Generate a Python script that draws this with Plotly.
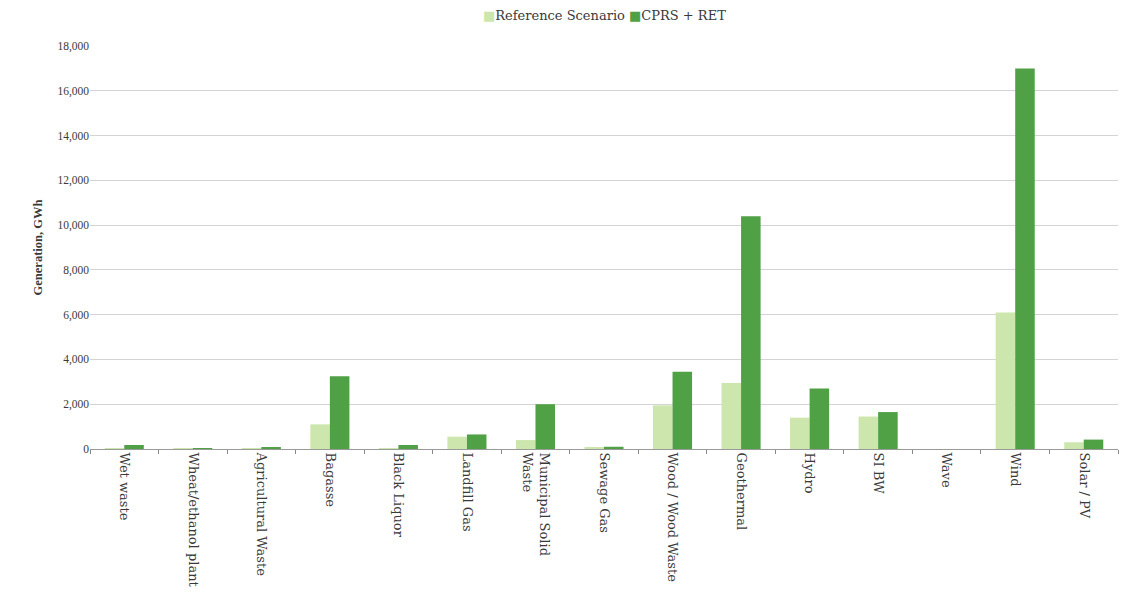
import plotly.graph_objects as go

categories = [
    "Wet waste", "Wheat/ethanol plant", "Agricultural Waste", "Bagasse",
    "Black Liquor", "Landfill Gas", "Municipal Solid<br>Waste", "Sewage Gas",
    "Wood / Wood Waste", "Geothermal", "Hydro", "SI BW", "Wave", "Wind",
    "Solar / PV",
]
reference_scenario = [10, 10, 15, 1100, 20, 550, 400, 50, 1950, 2950, 1400, 1450, 0, 6100, 300]
cprs_ret = [180, 20, 60, 3250, 180, 650, 2000, 100, 3450, 10400, 2700, 1650, 0, 17000, 420]
y_ticks = [0, 2000, 4000, 6000, 8000, 10000, 12000, 14000, 16000, 18000]

series_names = ["Reference Scenario", "CPRS + RET"]
series_colors = ["#cde6ad", "#50a046"]

label_font = "DejaVu Serif, serif"
number_font = "Liberation Serif, DejaVu Serif, serif"
text_color = "#3a3a3a"

fig = go.Figure()
for name, values, color in zip(series_names, [reference_scenario, cprs_ret], series_colors):
    fig.add_trace(go.Bar(
        name=name, x=categories, y=values,
        marker=dict(color=color, line=dict(width=0)),
        showlegend=False,
    ))

# compact legend line: small coloured squares sitting right next to the labels
legend_text = (
    f"<span style='color:{series_colors[0]}'>■</span>{series_names[0]} "
    f"<span style='color:{series_colors[1]}'>■</span>{series_names[1]}"
)
fig.add_annotation(
    text=legend_text, xref="paper", yref="paper", x=0.5, y=1.076,
    xanchor="center", yanchor="middle", showarrow=False,
    font=dict(size=13, family=label_font, color=text_color),
)

fig.update_layout(
    width=1129, height=592,
    barmode="group", bargap=0.43, bargroupgap=0,
    paper_bgcolor="white", plot_bgcolor="white",
    margin=dict(l=90, r=11, t=46, b=143),
    font=dict(family=number_font, color=text_color, size=11),
    xaxis=dict(
        type="category", tickangle=90, tickson="boundaries",
        ticks="outside", ticklen=4, tickcolor="#888888",
        showline=True, linecolor="#9a9a9a", linewidth=1,
        showgrid=False, automargin=False,
        tickfont=dict(size=13, family=label_font),
    ),
    yaxis=dict(
        range=[0, 18000], tickvals=y_ticks, tickformat=",d",
        showgrid=True, gridcolor="#d4d4d4", gridwidth=1,
        zeroline=False, showline=False, ticks="", automargin=False,
        tickfont=dict(size=11.5),
        title=dict(text="<b>Generation, GWh</b>", font=dict(size=12.5), standoff=12),
    ),
)

fig.write_html("out.html")
